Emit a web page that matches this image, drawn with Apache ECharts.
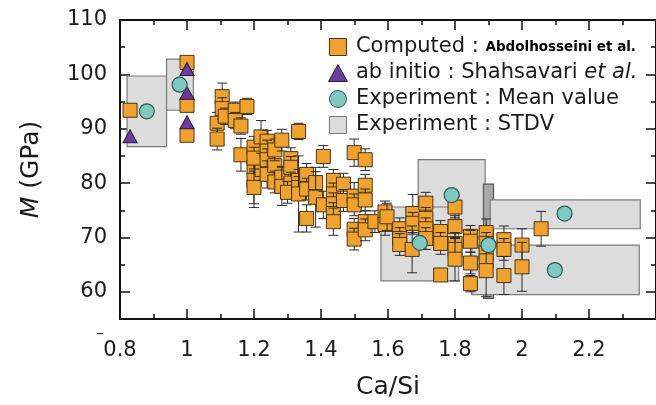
<!DOCTYPE html>
<html>
<head>
<meta charset="utf-8">
<script src="https://cdn.jsdelivr.net/npm/echarts@6/dist/echarts.min.js"></script>
<style>
  html, body { margin: 0; padding: 0; background: #ffffff; }
  #chart { width: 656px; height: 405px; }
</style>
</head>
<body>
<div id="chart"></div>
<script>
// ---- Axis ticks / labels ----
const xMajor = [0.8, 1.0, 1.2, 1.4, 1.6, 1.8, 2.0, 2.2];
const xMinor = [0.9, 1.1, 1.3, 1.5, 1.7, 1.9, 2.1, 2.3];
const yMajor = [60, 70, 80, 90, 100, 110];
const yMinor = [65, 75, 85, 95, 105];

// ---- Computed : Abdolhosseini et al. (Ca/Si, M, error) ----
const compX = [
  0.83, 1.0, 1.0, 1.0,
  1.09, 1.09, 1.105, 1.105, 1.114, 1.144, 1.144, 1.161, 1.179,
  1.161, 1.2, 1.2, 1.2, 1.2, 1.224, 1.2,
  1.221, 1.239, 1.239, 1.239, 1.239, 1.262, 1.262, 1.262, 1.283, 1.283, 1.283,
  1.31, 1.31, 1.31, 1.30, 1.333, 1.333, 1.333, 1.333, 1.357, 1.357, 1.357,
  1.384, 1.384, 1.407, 1.407, 1.437, 1.437, 1.437, 1.437, 1.437, 1.467, 1.467,
  1.499, 1.532, 1.499, 1.499, 1.499, 1.499, 1.532, 1.532, 1.532, 1.532,
  1.561, 1.591, 1.591,
  1.597, 1.635, 1.635, 1.635, 1.674, 1.674, 1.672,
  1.713, 1.713, 1.713, 1.713, 1.757, 1.757, 1.757,
  1.8, 1.8, 1.8, 1.8, 1.8,
  1.846, 1.846, 1.846, 1.846,
  1.893, 1.893, 1.893, 1.893, 1.893,
  1.946, 1.946, 1.946, 2.0, 2.0, 2.057
];
const compY = [
  93.4, 102.2, 94.3, 88.8,
  91.0, 88.1, 95.9, 93.7, 92.3, 93.4, 91.5, 90.5, 94.1,
  85.2, 86.6, 82.9, 80.5, 79.2, 82.5, 84.6,
  88.5, 87.7, 85.9, 84.3, 81.6, 83.2, 86.1, 80.2, 87.9, 81.1, 79.4,
  84.5, 82.9, 80.0, 78.3, 89.5, 80.5, 79.2, 78.0, 81.6, 78.9, 73.5,
  80.1, 77.4, 84.9, 76.0, 80.5, 78.0, 76.2, 74.4, 72.9, 79.8, 76.8,
  85.6, 84.3, 77.6, 76.0, 71.5, 69.7, 79.6, 76.9, 72.9, 71.4,
  72.9, 74.7, 72.4,
  73.8, 71.6, 69.8, 68.7, 74.4, 72.6, 67.8,
  76.3, 73.5, 71.6, 69.8, 71.1, 68.9, 63.1,
  75.6, 72.0, 68.9, 67.8, 66.0,
  70.2, 69.3, 65.3, 61.5,
  70.9, 68.9, 67.1, 65.7, 63.9,
  69.6, 67.8, 63.0, 68.6, 64.6, 71.6
];
const compErr = [
  0, 0, 0, 0,
  2, 2, 2.5, 2, 1.5, 1.5, 1.5, 1.5, 1.5,
  3, 2, 2, 5, 3, 2, 2,
  3, 2, 2, 2, 2.5, 2, 2, 2, 2, 2, 3.5,
  2, 2, 2, 2, 1.5, 2, 2, 7, 2, 2, 2.5,
  2, 5.5, 2, 2.5, 2, 2, 2, 2, 2.5, 2, 2,
  2.5, 2, 2.5, 2, 2, 2, 2, 2, 2, 2,
  2, 2, 2,
  2.5, 2, 2, 2, 3.5, 2, 4.3,
  2, 2, 2, 2, 2, 2, 0,
  2, 2, 2, 2, 4,
  2, 2, 2, 1.5,
  2.5, 2, 2, 2, 4.8,
  2.5, 2, 3.5, 3, 4.5, 3.2
];

// ---- ab initio : Shahsavari et al. ----
const triX = [0.83, 1.0, 1.0, 1.0];
const triY = [88.6, 101.0, 96.6, 91.2];

// ---- Experiment : Mean value ----
const meanX = [0.88, 0.978, 1.79, 1.695, 1.90, 2.127, 2.098];
const meanY = [93.2, 98.1, 77.8, 69.0, 68.6, 74.4, 64.0];

// ---- Experiment : STDV (centre, half-width, half-height) ----
const stdvX  = [0.88, 0.979, 1.79, 1.695, 1.90, 2.129, 2.10];
const stdvY  = [93.2, 98.1, 77.8, 68.8, 69.3, 74.25, 64.05];
const stdvDX = [0.059, 0.04, 0.10, 0.116, 0.015, 0.224, 0.25];
const stdvDY = [6.5, 4.7, 6.5, 6.8, 10.5, 2.65, 4.55];

const FONT = 'DejaVu Sans';
const TXT = '#1a1a1a';
const AX = '#111111';

const chart = echarts.init(document.getElementById('chart'), null, { renderer: 'canvas' });

function xAxisDef(position, ticks, len, withLabels, withLine) {
  return {
    type: 'value', gridIndex: 0, position: position, min: 0.8, max: 2.4,
    splitLine: { show: false },
    axisLine: { show: withLine, onZero: false, lineStyle: { color: AX, width: 2 } },
    axisTick: { show: true, inside: true, length: len, customValues: ticks, lineStyle: { color: AX, width: 1.5 } },
    axisLabel: withLabels ? {
      show: true, customValues: xMajor, margin: 21,
      fontFamily: FONT, fontSize: 21, color: TXT,
      formatter: v => String(Math.round(v * 10) / 10)
    } : { show: false },
    name: withLabels ? 'Ca/Si' : '',
    nameLocation: 'middle', nameGap: 56,
    nameTextStyle: { fontFamily: FONT, fontSize: 25, color: TXT }
  };
}
function yAxisDef(position, ticks, len, withLabels, withLine) {
  return {
    type: 'value', gridIndex: 0, position: position, min: 55, max: 110,
    splitLine: { show: false },
    axisLine: { show: withLine, onZero: false, lineStyle: { color: AX, width: 2 } },
    axisTick: { show: true, inside: true, length: len, customValues: ticks, lineStyle: { color: AX, width: 1.5 } },
    axisLabel: withLabels ? {
      show: true, customValues: yMajor, margin: 13,
      fontFamily: FONT, fontSize: 21, color: TXT
    } : { show: false },
    name: withLabels ? '{i|M} (GPa)' : '',
    nameLocation: 'middle', nameGap: 76,
    nameTextStyle: {
      fontFamily: FONT, fontSize: 25, color: TXT,
      rich: { i: { fontFamily: FONT, fontSize: 25, fontStyle: 'italic', color: TXT } }
    }
  };
}

const ORANGE = '#efa22f', ORANGE_B = '#4a3512';
const PURPLE = '#6b3d9c', PURPLE_B = '#2a1840';
const TEAL = '#7fc9c2', TEAL_B = '#2d5a55';
const GREY = '#dcdcdc', GREY_B = '#7a7a7a';

const legendNames = {
  'Computed': 'Computed : {b|Abdolhosseini et al.}',
  'ab initio': 'ab initio : Shahsavari {i|et al.}',
  'Mean value': 'Experiment : Mean value',
  'STDV': 'Experiment : STDV'
};

const option = {
  animation: false,
  backgroundColor: '#ffffff',
  grid: { left: 120, right: -4, top: 20, bottom: 81, containLabel: false },
  xAxis: [
    xAxisDef('bottom', xMajor, 10, true, true),
    xAxisDef('bottom', xMinor, 5, false, false),
    xAxisDef('top', xMajor, 10, false, true),
    xAxisDef('top', xMinor, 5, false, false)
  ],
  yAxis: [
    yAxisDef('left', yMajor, 10, true, true),
    yAxisDef('left', yMinor, 5, false, false),
    yAxisDef('right', yMajor, 10, false, true),
    yAxisDef('right', yMinor, 5, false, false)
  ],
  legend: {
    orient: 'vertical', left: 328, top: 36, padding: 0,
    itemWidth: 26, itemHeight: 17, itemGap: 4,
    selectedMode: false,
    formatter: name => legendNames[name],
    textStyle: {
      fontFamily: FONT, fontSize: 21, color: TXT, lineHeight: 22,
      rich: {
        b: { fontFamily: FONT, fontSize: 13.5, fontWeight: 'bold', color: '#000', lineHeight: 22 },
        i: { fontFamily: FONT, fontSize: 21, fontStyle: 'italic', color: TXT, lineHeight: 22 }
      }
    },
    data: [
      { name: 'Computed', icon: 'path://M0,0H10V10H0Z', itemStyle: { color: ORANGE, borderColor: ORANGE_B, borderWidth: 1 } },
      { name: 'ab initio', icon: 'path://M5,0L10,9H0Z', itemStyle: { color: PURPLE, borderColor: PURPLE_B, borderWidth: 1 } },
      { name: 'Mean value', icon: 'circle', itemStyle: { color: TEAL, borderColor: TEAL_B, borderWidth: 1 } },
      { name: 'STDV', icon: 'path://M0,0H10V10H0Z', itemStyle: { color: GREY, borderColor: GREY_B, borderWidth: 1 } }
    ]
  },
  graphic: [
    { type: 'text', left: 96, top: 326, silent: true,
      style: { text: '–', fontFamily: FONT, fontSize: 16, fill: TXT } }
  ],
  series: [
    {
      name: 'STDV', type: 'custom', xAxisIndex: 0, yAxisIndex: 0, silent: true,
      itemStyle: { color: GREY },
      data: stdvX.map((x, i) => [x, stdvY[i], stdvDX[i], stdvDY[i]]),
      encode: { x: 0, y: 1 },
      renderItem: function (params, api) {
        const x = api.value(0), y = api.value(1), dx = api.value(2), dy = api.value(3);
        const p1 = api.coord([x - dx, y + dy]);
        const p2 = api.coord([x + dx, y - dy]);
        const dark = params.dataIndex === 4;
        return {
          type: 'rect',
          shape: { x: p1[0], y: p1[1], width: p2[0] - p1[0], height: p2[1] - p1[1] },
          style: { fill: dark ? '#a9a9a9' : GREY, stroke: dark ? '#555' : GREY_B, lineWidth: 1.2 }
        };
      }
    },
    {
      name: 'Computed', type: 'custom', xAxisIndex: 0, yAxisIndex: 0, silent: true,
      itemStyle: { color: ORANGE },
      data: compX.map((x, i) => [x, compY[i], compErr[i]]),
      encode: { x: 0, y: 1 },
      renderItem: function (params, api) {
        const x = api.value(0), y = api.value(1), e = api.value(2);
        const c = api.coord([x, y]);
        const s = 14, cw = 5;
        const children = [];
        if (e > 0) {
          const t = api.coord([x, y + e])[1];
          const b = api.coord([x, y - e])[1];
          const ls = { stroke: '#2b2b2b', lineWidth: 1 };
          children.push({ type: 'line', shape: { x1: c[0], y1: t, x2: c[0], y2: b }, style: ls });
          children.push({ type: 'line', shape: { x1: c[0] - cw, y1: t, x2: c[0] + cw, y2: t }, style: ls });
          children.push({ type: 'line', shape: { x1: c[0] - cw, y1: b, x2: c[0] + cw, y2: b }, style: ls });
        }
        children.push({
          type: 'rect',
          shape: { x: c[0] - s / 2, y: c[1] - s / 2, width: s, height: s },
          style: { fill: ORANGE, stroke: ORANGE_B, lineWidth: 1 }
        });
        return { type: 'group', children: children };
      }
    },
    {
      name: 'ab initio', type: 'scatter', xAxisIndex: 0, yAxisIndex: 0, silent: true,
      symbol: 'triangle', symbolSize: [14, 13],
      itemStyle: { color: PURPLE, borderColor: PURPLE_B, borderWidth: 1, opacity: 1 },
      data: triX.map((x, i) => [x, triY[i]])
    },
    {
      name: 'Mean value', type: 'scatter', xAxisIndex: 0, yAxisIndex: 0, silent: true,
      symbol: 'circle', symbolSize: 15,
      itemStyle: { color: TEAL, borderColor: TEAL_B, borderWidth: 1.2, opacity: 1 },
      data: meanX.map((x, i) => [x, meanY[i]])
    }
  ]
};

chart.setOption(option);
</script>
</body>
</html>
